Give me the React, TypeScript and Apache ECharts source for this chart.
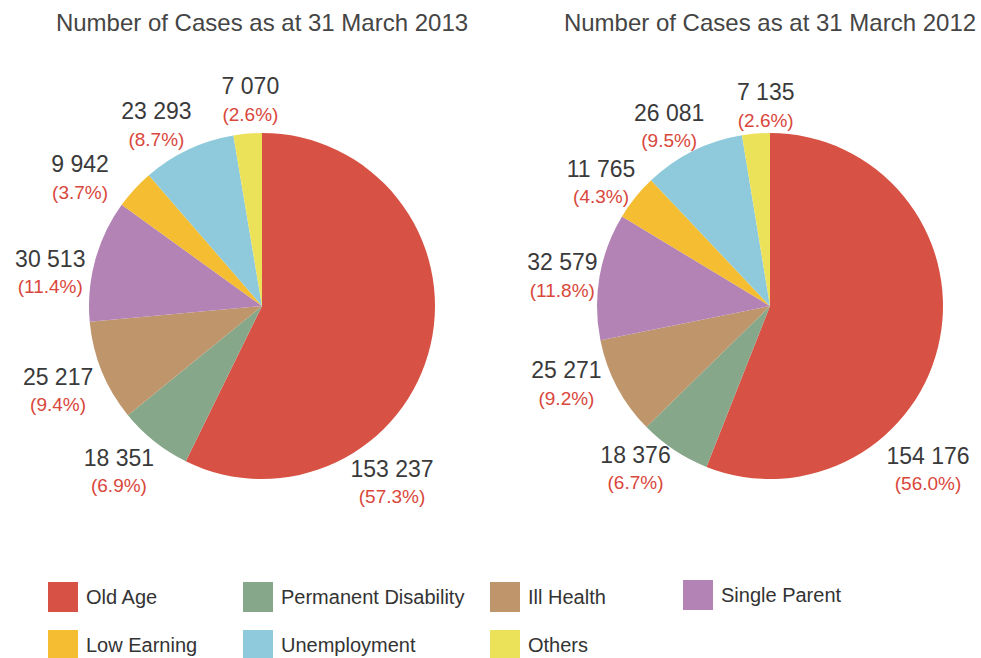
import React, { useEffect, useRef } from "react";
import * as echarts from "echarts";

const categories = ["Old Age", "Permanent Disability", "Ill Health", "Single Parent", "Low Earning", "Unemployment", "Others"];
const values2013 = [153237, 18351, 25217, 30513, 9942, 23293, 7070];
const percent2013 = ["57.3%", "6.9%", "9.4%", "11.4%", "3.7%", "8.7%", "2.6%"];
const values2012 = [154176, 18376, 25271, 32579, 11765, 26081, 7135];
const percent2012 = ["56.0%", "6.7%", "9.2%", "11.8%", "4.3%", "9.5%", "2.6%"];
const titles = ["Number of Cases as at 31 March 2013", "Number of Cases as at 31 March 2012"];
const colors = ["#d75244", "#87a78a", "#bf956b", "#b283b4", "#f5bd31", "#8ecadb", "#ebe25a"];

// layout
const centers = [[262, 306], [770, 306]];
const RADIUS = 173;
const LABEL_GAP = 1;
const oldAgeBlockOffset = [[130, 176], [158, 163]];
// small manual label nudges (px) applied after the automatic outside placement
const labelNudge = [
  [[0, 0], [-9, -3], [-4, 3], [-5, 23], [-26, 15], [-16, 10], [5, -6]],
  [[0, 0], [-16, -16], [-12, -23], [2, 7], [-1, 12], [-7, 10], [12, 0]],
];
const legendPos = [
  [48, 582], [243, 582], [490, 582], [683, 580],
  [48, 630], [243, 630], [490, 630],
];
const FONT = "'Liberation Sans', Arial, Helvetica, sans-serif";

const fmt = (v: number) => String(v).replace(/\B(?=(\d{3})+(?!\d))/g, " ");

export default function App() {
  const ref = useRef<HTMLDivElement>(null);
  useEffect(() => {
    if (!ref.current) return;
    const chart = echarts.init(ref.current, null, { renderer: "svg" });
    const seriesData = [
      { values: values2013, pct: percent2013 },
      { values: values2012, pct: percent2012 },
    ];
    chart.setOption({
      animation: false,
      color: colors,
      textStyle: { fontFamily: FONT },
      title: titles.map((t, i) => ({
        text: t,
        left: centers[i][0],
        top: 10,
        padding: 0,
        textAlign: "center",
        textStyle: { fontSize: 24, fontWeight: "normal", color: "#454545", fontFamily: FONT },
      })),
      legend: categories.map((c, i) => ({
        data: [c],
        left: legendPos[i][0],
        top: legendPos[i][1],
        padding: 0,
        icon: "rect",
        itemWidth: 30,
        itemHeight: 30,
        selectedMode: false,
        textStyle: { fontSize: 20, color: "#333", fontFamily: FONT, padding: [0, 0, 0, 3] },
      })),
      series: seriesData.map((s, si) => ({
        type: "pie",
        center: centers[si],
        radius: RADIUS,
        startAngle: 90,
        clockwise: true,
        avoidLabelOverlap: false,
        emphasis: { disabled: true },
        data: categories.map((c, i) => ({ name: c, value: s.values[i] })),
        label: {
          show: true,
          position: "outside",
          distanceToLabelLine: 0,
          formatter: (p: any) => `{v|${fmt(p.value)}}\n{p|(${s.pct[p.dataIndex]})}`,
          rich: {
            v: { fontSize: 23, color: "#3a3a3a", lineHeight: 29, align: "center", fontFamily: FONT },
            p: { fontSize: 19, color: "#d9473c", lineHeight: 27, align: "center", fontFamily: FONT },
          },
        },
        labelLine: { show: false, length: 40, length2: 0 },
        labelLayout: (params: any) => {
          const [cx, cy] = centers[si];
          if (params.dataIndex === 0) {
            const off = oldAgeBlockOffset[si];
            return { x: cx + off[0], y: cy + off[1], align: "center", verticalAlign: "middle" };
          }
          const r = params.labelRect;
          if (!r) return { align: "center", verticalAlign: "middle" };
          const ax = params.align === "right" ? r.x + r.width : params.align === "center" ? r.x + r.width / 2 : r.x;
          const ay = r.y + r.height / 2;
          let dx = ax - cx;
          let dy = ay - cy;
          const len = Math.sqrt(dx * dx + dy * dy) || 1;
          dx /= len;
          dy /= len;
          const t = RADIUS + LABEL_GAP + (Math.abs(dx) * r.width) / 2 + (Math.abs(dy) * r.height) / 2;
          const n = labelNudge[si][params.dataIndex] || [0, 0];
          return { x: cx + dx * t + n[0], y: cy + dy * t + n[1], align: "center", verticalAlign: "middle" };
        },
      })),
    });
    return () => chart.dispose();
  }, []);
  return <div ref={ref} style={{ position: "absolute", left: 0, top: 0, width: 981, height: 658 }} />;
}
